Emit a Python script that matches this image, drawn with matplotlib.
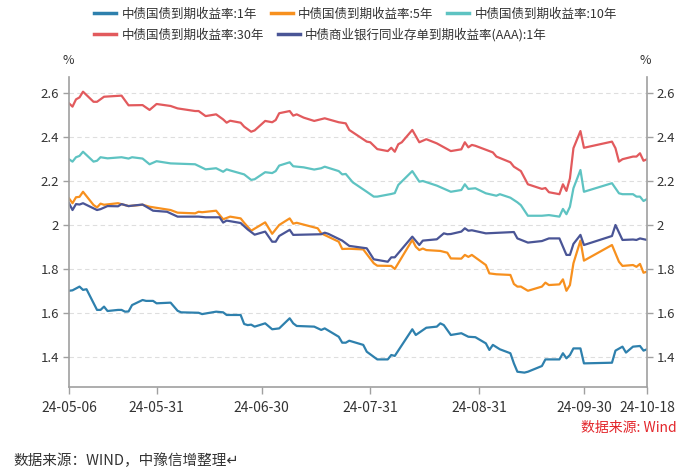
import matplotlib
matplotlib.use('Agg')
import pandas as pd
from matplotlib import pyplot as plt

plt.rcParams['font.family'] = ['Noto Sans CJK SC', 'DejaVu Sans']
plt.rcParams['axes.unicode_minus'] = False

# 系列名称与颜色
names = ['中债国债到期收益率:1年', '中债国债到期收益率:5年', '中债国债到期收益率:10年',
         '中债国债到期收益率:30年', '中债商业银行同业存单到期收益率(AAA):1年']
colors = ['#2e80ad', '#f7901e', '#5ec3c2', '#e25a5d', '#4a5596']

# 1年国债
dates_1y = ['05-06', '05-07', '05-09', '05-10', '05-11', '05-14', '05-15', '05-16', '05-17', '05-20',
            '05-21', '05-22', '05-23', '05-24', '05-27', '05-28', '05-30', '05-31', '06-04', '06-06',
            '06-07', '06-12', '06-13', '06-17', '06-19', '06-20', '06-24', '06-25', '06-26', '06-27',
            '06-28', '07-01', '07-03', '07-05', '07-08', '07-09', '07-10', '07-15', '07-17', '07-18',
            '07-22', '07-23', '07-24', '07-25', '07-29', '07-30', '08-02', '08-05', '08-06', '08-07',
            '08-12', '08-13', '08-16', '08-19', '08-20', '08-21', '08-23', '08-26', '08-28', '08-30',
            '09-02', '09-03', '09-04', '09-06', '09-09', '09-10', '09-11', '09-13', '09-14', '09-18',
            '09-19', '09-23', '09-24', '09-25', '09-26', '09-27', '09-29', '09-30', '10-08', '10-09',
            '10-11', '10-12', '10-14', '10-16', '10-17', '10-18']
vals_1y = [1.701, 1.703, 1.72, 1.705, 1.708, 1.614, 1.614, 1.629, 1.609, 1.614,
           1.614, 1.606, 1.607, 1.636, 1.659, 1.655, 1.655, 1.644, 1.647, 1.61,
           1.603, 1.601, 1.595, 1.606, 1.603, 1.591, 1.591, 1.55, 1.545, 1.547,
           1.538, 1.553, 1.526, 1.53, 1.576, 1.553, 1.541, 1.538, 1.523, 1.53,
           1.492, 1.465, 1.465, 1.474, 1.455, 1.424, 1.389, 1.389, 1.409, 1.405,
           1.526, 1.5, 1.533, 1.538, 1.553, 1.545, 1.5, 1.508, 1.492, 1.49,
           1.462, 1.432, 1.455, 1.435, 1.417, 1.371, 1.333, 1.329, 1.333, 1.359,
           1.389, 1.389, 1.417, 1.394, 1.409, 1.439, 1.439, 1.371, 1.374, 1.429,
           1.447, 1.42, 1.447, 1.45, 1.429, 1.435]

# 5年国债
dates_5y = ['05-06', '05-07', '05-08', '05-09', '05-10', '05-13', '05-14', '05-15', '05-16', '05-20',
            '05-23', '05-27', '05-29', '05-31', '06-04', '06-06', '06-11', '06-12', '06-13', '06-17',
            '06-19', '06-21', '06-24', '06-25', '06-27', '07-01', '07-03', '07-05', '07-08', '07-09',
            '07-10', '07-16', '07-17', '07-22', '07-23', '07-25', '07-29', '08-01', '08-02', '08-06',
            '08-07', '08-12', '08-13', '08-14', '08-15', '08-16', '08-20', '08-22', '08-23', '08-26',
            '08-27', '08-28', '08-29', '09-02', '09-03', '09-05', '09-09', '09-10', '09-11', '09-12',
            '09-14', '09-18', '09-19', '09-20', '09-23', '09-24', '09-25', '09-26', '09-27', '09-29',
            '09-30', '10-08', '10-10', '10-11', '10-14', '10-15', '10-16', '10-17', '10-18']
vals_5y = [2.121, 2.099, 2.126, 2.128, 2.151, 2.091, 2.08, 2.097, 2.092, 2.099,
           2.086, 2.092, 2.083, 2.078, 2.068, 2.056, 2.053, 2.06, 2.058, 2.065,
           2.026, 2.038, 2.03, 2.01, 1.974, 2.012, 1.96, 2.0, 2.03, 2.006,
           2.01, 1.985, 1.962, 1.924, 1.891, 1.892, 1.889, 1.826, 1.815, 1.814,
           1.8, 1.932, 1.901, 1.886, 1.893, 1.886, 1.882, 1.874, 1.848, 1.847,
           1.864, 1.855, 1.864, 1.818, 1.78, 1.776, 1.773, 1.732, 1.72, 1.72,
           1.701, 1.72, 1.738, 1.727, 1.73, 1.753, 1.701, 1.727, 1.826, 1.929,
           1.838, 1.909, 1.833, 1.814, 1.818, 1.81, 1.823, 1.783, 1.788]

# 10年国债
dates_10y = ['05-06', '05-07', '05-08', '05-09', '05-10', '05-13', '05-14', '05-15', '05-17', '05-21',
             '05-23', '05-24', '05-27', '05-29', '05-31', '06-04', '06-11', '06-14', '06-17', '06-19',
             '06-20', '06-21', '06-25', '06-27', '06-28', '07-01', '07-03', '07-04', '07-05', '07-08',
             '07-09', '07-12', '07-15', '07-17', '07-18', '07-22', '07-23', '07-24', '07-26', '07-30',
             '08-01', '08-02', '08-06', '08-07', '08-08', '08-12', '08-14', '08-15', '08-19', '08-23',
             '08-26', '08-27', '08-28', '08-30', '09-02', '09-05', '09-06', '09-09', '09-11', '09-12',
             '09-14', '09-18', '09-20', '09-23', '09-24', '09-25', '09-26', '09-27', '09-29', '09-30',
             '10-08', '10-10', '10-11', '10-14', '10-15', '10-16', '10-17', '10-18']
vals_10y = [2.299, 2.288, 2.308, 2.314, 2.333, 2.288, 2.292, 2.308, 2.303, 2.308,
            2.302, 2.308, 2.302, 2.276, 2.29, 2.28, 2.276, 2.253, 2.258, 2.242,
            2.253, 2.248, 2.23, 2.205, 2.208, 2.24, 2.236, 2.245, 2.27, 2.285,
            2.267, 2.262, 2.252, 2.258, 2.265, 2.245, 2.23, 2.232, 2.194, 2.151,
            2.129, 2.129, 2.141, 2.145, 2.182, 2.245, 2.197, 2.2, 2.179, 2.151,
            2.159, 2.185, 2.164, 2.167, 2.144, 2.133, 2.14, 2.124, 2.103, 2.09,
            2.042, 2.042, 2.045, 2.038, 2.073, 2.049, 2.083, 2.167, 2.25, 2.151,
            2.19, 2.144, 2.14, 2.14, 2.129, 2.129, 2.109, 2.118]

# 30年国债
dates_30y = ['05-06', '05-07', '05-08', '05-09', '05-10', '05-13', '05-14', '05-16', '05-21', '05-23',
             '05-27', '05-29', '05-31', '06-04', '06-06', '06-11', '06-12', '06-14', '06-17', '06-19',
             '06-20', '06-21', '06-24', '06-25', '06-27', '06-28', '07-01', '07-03', '07-04', '07-05',
             '07-08', '07-09', '07-10', '07-12', '07-15', '07-18', '07-22', '07-24', '07-25', '07-30',
             '07-31', '08-02', '08-05', '08-06', '08-07', '08-08', '08-09', '08-12', '08-14', '08-16',
             '08-19', '08-23', '08-26', '08-27', '08-28', '08-29', '08-30', '09-04', '09-05', '09-09',
             '09-10', '09-12', '09-14', '09-18', '09-19', '09-20', '09-23', '09-24', '09-25', '09-26',
             '09-27', '09-29', '09-30', '10-08', '10-09', '10-10', '10-11', '10-14', '10-15', '10-16',
             '10-17', '10-18']
vals_30y = [2.553, 2.538, 2.571, 2.58, 2.606, 2.56, 2.56, 2.583, 2.588, 2.544,
            2.545, 2.523, 2.55, 2.541, 2.53, 2.518, 2.518, 2.495, 2.503, 2.48,
            2.465, 2.474, 2.465, 2.447, 2.424, 2.43, 2.473, 2.467, 2.477, 2.508,
            2.518, 2.497, 2.503, 2.488, 2.473, 2.485, 2.467, 2.462, 2.432, 2.379,
            2.376, 2.345, 2.336, 2.351, 2.333, 2.367, 2.376, 2.432, 2.376, 2.39,
            2.371, 2.336, 2.344, 2.376, 2.353, 2.364, 2.36, 2.33, 2.311, 2.285,
            2.265, 2.245, 2.185, 2.164, 2.168, 2.149, 2.14, 2.185, 2.155, 2.212,
            2.349, 2.427, 2.351, 2.379, 2.349, 2.288, 2.299, 2.311, 2.311, 2.326,
            2.292, 2.299]

# 同业存单(AAA) 1年
dates_cd = ['05-06', '05-07', '05-08', '05-09', '05-10', '05-14', '05-15', '05-17', '05-20', '05-21',
            '05-23', '05-27', '05-30', '06-03', '06-06', '06-12', '06-14', '06-18', '06-19', '06-20',
            '06-24', '06-26', '06-28', '07-01', '07-03', '07-04', '07-05', '07-08', '07-09', '07-17',
            '07-18', '07-19', '07-23', '07-25', '07-30', '08-01', '08-05', '08-06', '08-07', '08-12',
            '08-14', '08-15', '08-19', '08-21', '08-22', '08-23', '08-26', '08-27', '08-28', '08-29',
            '09-02', '09-10', '09-11', '09-14', '09-18', '09-20', '09-23', '09-25', '09-26', '09-27',
            '09-29', '09-30', '10-08', '10-09', '10-11', '10-14', '10-15', '10-16', '10-18']
vals_cd = [2.099, 2.068, 2.095, 2.093, 2.099, 2.068, 2.072, 2.086, 2.085, 2.095,
           2.086, 2.093, 2.065, 2.06, 2.038, 2.038, 2.035, 2.035, 2.011, 2.02,
           2.009, 1.98, 1.956, 1.97, 1.924, 1.924, 1.95, 1.978, 1.955, 1.958,
           1.965, 1.96, 1.929, 1.905, 1.894, 1.844, 1.833, 1.853, 1.853, 1.947,
           1.909, 1.929, 1.935, 1.962, 1.958, 1.959, 1.97, 1.985, 1.974, 1.976,
           1.962, 1.968, 1.939, 1.92, 1.927, 1.939, 1.939, 1.864, 1.864, 1.914,
           1.955, 1.909, 1.95, 2.0, 1.932, 1.934, 1.932, 1.939, 1.932]

x_ticks = ['05-06', '05-31', '06-30', '07-31', '08-31', '09-30', '10-18']
x_tick_labels = ['24-05-06', '24-05-31', '24-06-30', '24-07-31', '24-08-31', '24-09-30', '24-10-18']
y_ticks = [1.4, 1.6, 1.8, 2.0, 2.2, 2.4, 2.6]
y_tick_labels = ['1.4', '1.6', '1.8', '2', '2.2', '2.4', '2.6']


def to_dt(days):
    return pd.to_datetime(['2024-' + d for d in days])


fig = plt.figure(figsize=(6.89, 4.75), dpi=100)
ax = fig.add_axes([69 / 689, 1 - 387 / 475, (647 - 69) / 689, (387 - 77) / 475])

series = [(dates_1y, vals_1y), (dates_5y, vals_5y), (dates_10y, vals_10y),
          (dates_30y, vals_30y), (dates_cd, vals_cd)]
lines = []
for (d, v), name, c in zip(series, names, colors):
    ln = ax.plot(to_dt(d), v, color=c, linewidth=1.6, label=name, solid_joinstyle='round')[0]
    lines.append(ln)

# 坐标轴
ax.set_xlim(to_dt(['05-06'])[0], to_dt(['10-18'])[0])
ax.set_ylim(1.2636, 2.6727)
ax.set_xticks(to_dt(x_ticks))
ax.set_xticklabels(x_tick_labels)
ax.set_yticks(y_ticks)
ax.set_yticklabels(y_tick_labels)

ax.yaxis.grid(True, linestyle=(0, (4, 3)), color='#dedede', linewidth=0.8)
ax.set_axisbelow(True)
ax.spines['top'].set_visible(False)
for s in ['left', 'right', 'bottom']:
    ax.spines[s].set_color('#a0a0a0')
    ax.spines[s].set_linewidth(1.2)

ax.tick_params(axis='y', left=True, right=True, labelleft=True, labelright=True,
               direction='out', length=4, width=1, pad=3, color='#a0a0a0',
               labelcolor='#333333', labelsize=9.5)
ax.tick_params(axis='x', direction='out', length=5, width=1, pad=5, color='#a0a0a0',
               labelcolor='#333333', labelsize=10)

fig.text(68 / 689, 1 - 61 / 475, '%', ha='center', va='center', fontsize=9, color='#333333')
fig.text(645 / 689, 1 - 61 / 475, '%', ha='center', va='center', fontsize=9, color='#333333')

# 图例两行
leg_kw = dict(frameon=False, fontsize=9, handlelength=1.75, handletextpad=0.45,
              columnspacing=1.1, borderpad=0, borderaxespad=0, labelcolor='#333333')
fig.legend(handles=lines[:3], loc='center left', ncol=3,
           bbox_to_anchor=(94 / 689, 1 - 14 / 475), **leg_kw)
fig.legend(handles=lines[3:], loc='center left', ncol=2,
           bbox_to_anchor=(94 / 689, 1 - 35 / 475), **leg_kw)
for leg in fig.legends:
    for h in leg.legend_handles:
        h.set_linewidth(2.5)

fig.text(677 / 689, 1 - 428 / 475, '数据来源: Wind', ha='right', va='center',
         fontsize=10, color='#e3262b')
fig.text(13 / 689, 1 - 461 / 475, '数据来源：WIND，中豫信增整理↵', ha='left', va='center',
         fontsize=10.5, color='#333333')

plt.savefig('out.png', dpi=100)
plt.close()
